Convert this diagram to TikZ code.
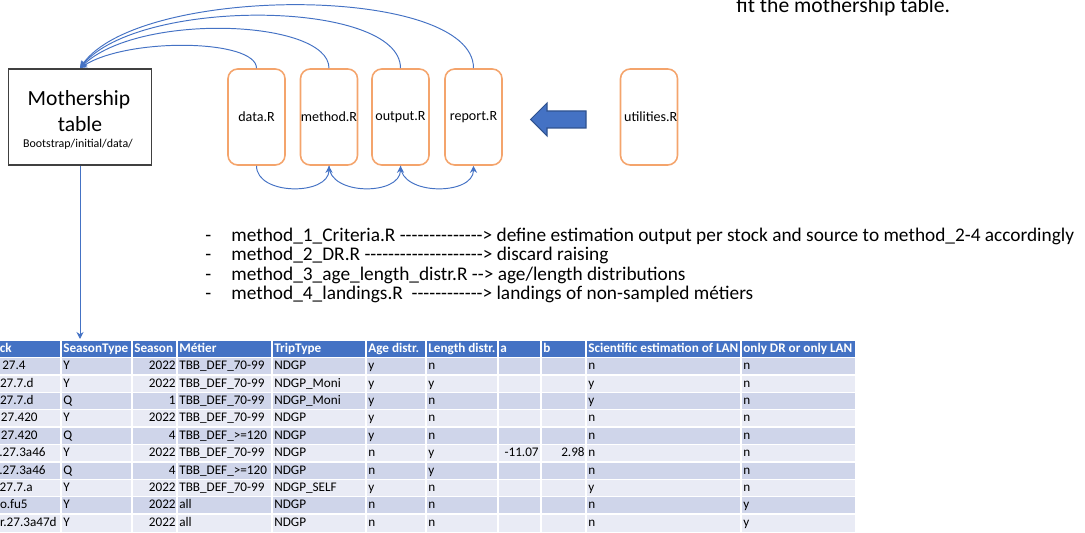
\documentclass[tikz,border=0pt]{standalone}
\usepackage{fontspec}
\setmainfont{Carlito}
\usetikzlibrary{arrows.meta}
\definecolor{linkblue}{HTML}{4472C4}
\definecolor{arrowedge}{HTML}{2F528F}
\definecolor{fileorange}{HTML}{F4A46C}
\definecolor{rowdark}{HTML}{CFD5EA}
\definecolor{rowlight}{HTML}{E9EBF5}
\definecolor{boxgray}{HTML}{404040}
\newcommand\dashrun[1]{\foreach \k in {1,...,#1}{-\kern0pt}}
\tikzset{
  filebox/.style={draw=fileorange, line width=0.9pt, rounded corners=5.5pt,
    minimum width=1.14cm, minimum height=1.92cm, inner sep=0pt,
    font=\fontsize{8}{9.6}\selectfont},
  link/.style={draw=linkblue, line width=0.55pt, -{Stealth[length=4pt,width=4pt]}},
  txt/.style={anchor=base, inner sep=0pt},
  cell/.style={anchor=base west, inner sep=0pt, font=\fontsize{7.5}{9}\selectfont},
  numcell/.style={cell, anchor=base east},
  headcell/.style={cell, text=white, font=\fontsize{7.5}{9}\bfseries\selectfont},
  bullet/.style={anchor=base west, inner sep=0pt, font=\fontsize{11}{13}\selectfont}
}
\begin{document}
\begin{tikzpicture}[x=0.02cm, y=-0.02cm]
\clip (0,0) rectangle (1085,533);
% boxes
\node[draw=boxgray, line width=1.1pt, minimum width=2.86cm, minimum height=1.92cm,
  inner sep=0pt] (mother) at (80,117) {};
\node[txt, font=\fontsize{12.3}{14}\selectfont] (mtitle) at (79,106) {Mothership};
\node[txt, font=\fontsize{12.3}{14}\selectfont] (mtable) at (80,132) {table};
\node[txt, font=\fontsize{6.8}{8}\selectfont] (mpath) at (78,148) {Bootstrap/initial/data/};
\node[filebox] (data) at (256.5,117) {data.R};
\node[filebox] (method) at (329,117) {method.R};
\node[filebox] (output) at (400.5,117) {output.R};
\node[filebox] (report) at (473.5,117) {report.R};
\node[filebox] (util) at (649,117) {\hspace*{2pt}utilities.R};
\node[txt, anchor=base west, font=\fontsize{12.3}{14}\selectfont] (fitnote) at (736,12.7)
  {fit the mothership table.};
% big arrow
\filldraw[fill=linkblue, draw=arrowedge, line width=0.6pt] (530.5,119.5) -- (547,103)
  -- (547,111) -- (586,111) -- (586,128) -- (547,128) -- (547,136) -- cycle;
% links to the mothership table
\draw[link] (data.north) .. controls +(0,-29) and +(48,-31) .. (mother.north);
\draw[link] (method.north) .. controls +(0,-49) and +(58,-56) .. (mother.north);
\draw[link] (output.north) .. controls +(0,-69) and +(58,-71) .. (mother.north);
\draw[link] (report.north) .. controls +(0,-84) and +(58,-84) .. (mother.north);
\draw[link] (data.south) .. controls +(0,30) and +(0,30) .. (method.south);
\draw[link] (method.south) .. controls +(0,30) and +(0,30) .. (output.south);
\draw[link] (output.south) .. controls +(0,30) and +(0,30) .. (report.south);
\coordinate (tabletop) at (80,339);
\draw[link] (mother.south) -- (tabletop);
% method list
\foreach \i/\bl in {1/241.5,2/260.8,3/280.1,4/299.4}
  \node[bullet] (dash\i) at (205,\bl) {-};
\node[bullet] (item1) at (231,241.5) {method\_1\_Criteria.R \dashrun{14}> define estimation output per stock and source to method\_2-4 accordingly};
\node[bullet] (item2) at (231,260.8) {method\_2\_DR.R \dashrun{20}> discard raising};
\node[bullet] (item3) at (231,280.1) {method\_3\_age\_length\_distr.R \dashrun{2}> age/length distributions};
\node[bullet] (item4) at (231,299.4) {method\_4\_landings.R\ \ \dashrun{12}> landings of non-sampled métiers};
% table
\fill[linkblue] (-60,341) rectangle (855,357.5);
\fill[rowlight] (-60,357.5) rectangle (855,531.5);
\foreach \r in {1,3,5,7,9}
  \fill[rowdark] (-60,357.5+17.4*\r-17.4) rectangle (855,357.5+17.4*\r);
\foreach \r in {0,...,9}
  \draw[white, line width=0.7pt] (-60,357.5+17.4*\r) -- (855,357.5+17.4*\r);
\foreach \x in {61,132,177,272,366,426,498,541,586,741}
  \draw[white, line width=0.7pt] (\x,341) -- (\x,531.5);
\node[headcell, anchor=base east] (hst) at (12,353) {ck};
\foreach \x/\h [count=\c] in {63/SeasonType,134/Season,179/Métier,274/TripType,
  368/Age distr.,428/Length distr.,500/a,543/b,588/Scientific estimation of LAN,
  743/only DR or only LAN}
  \node[headcell] (h\c) at (\x,353) {\h};
\foreach \r/\st/\ex in {1/27.4/26,2/27.7.d/34,3/27.7.d/34,4/27.420/38,5/27.420/38,
  6/.27.3a46/46,7/.27.3a46/46,8/27.7.a/33,9/o.fu5/28,10/r.27.3a47d/57}
  \node[numcell] (st\r) at (\ex,352.3+17.4*\r) {\st};
\foreach \r/\sty/\sea/\met/\tri/\age/\len/\pa/\pb/\sci/\onl in {
  1/Y/2022/TBB\_DEF\_70-99/NDGP/y/n/{}/{}/n/n,
  2/Y/2022/TBB\_DEF\_70-99/NDGP\_Moni/y/y/{}/{}/y/n,
  3/Q/1/TBB\_DEF\_70-99/NDGP\_Moni/y/n/{}/{}/y/n,
  4/Y/2022/TBB\_DEF\_70-99/NDGP/y/n/{}/{}/n/n,
  5/Q/4/TBB\_DEF\_>=120/NDGP/y/n/{}/{}/n/n,
  6/Y/2022/TBB\_DEF\_70-99/NDGP/n/y/-11.07/2.98/n/n,
  7/Q/4/TBB\_DEF\_>=120/NDGP/n/y/{}/{}/n/n,
  8/Y/2022/TBB\_DEF\_70-99/NDGP\_SELF/y/n/{}/{}/y/n,
  9/Y/2022/all/NDGP/n/n/{}/{}/n/y,
  10/Y/2022/all/NDGP/n/n/{}/{}/n/y}{
  \node[cell] (sty\r) at (63,352.3+17.4*\r) {\sty};
  \node[numcell] (sea\r) at (176,352.3+17.4*\r) {\sea};
  \node[cell] (met\r) at (179,352.3+17.4*\r) {\met};
  \node[cell] (tri\r) at (274,352.3+17.4*\r) {\tri};
  \node[cell] (age\r) at (368,352.3+17.4*\r) {\age};
  \node[cell] (len\r) at (428,352.3+17.4*\r) {\len};
  \node[numcell] (pa\r) at (539,352.3+17.4*\r) {\pa};
  \node[numcell] (pb\r) at (585,352.3+17.4*\r) {\pb};
  \node[cell] (sci\r) at (588,352.3+17.4*\r) {\sci};
  \node[cell] (onl\r) at (743,352.3+17.4*\r) {\onl};
}
\end{tikzpicture}
\end{document}
